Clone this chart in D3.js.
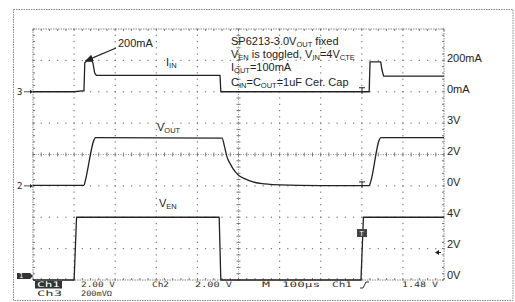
<!DOCTYPE html>
<html><head><meta charset="utf-8">
<script src="https://cdn.jsdelivr.net/npm/d3@7"></script>
<style>body{margin:0;background:#fff}svg{display:block}</style>
</head><body>
<svg id="c" width="515" height="302"></svg>
<script>
// ---- data ----
const timeDomain = [0, 1000];            // µs, 100 µs/div
const divsX = 10, divsY = 8;
// Ch1 : V_EN (V), 2 V/div, ground at div 0
const venT = [0, 100, 106, 453, 457, 798, 804, 1000];
const venV = [0, 0, 4, 4, 0, 0, 4, 4];
// Ch2 : V_OUT (V), 2 V/div, ground at div 3
const voutT = [0, 124, 127, 148, 152, 460, 466, 472, 480, 487, 499, 516, 535, 565, 600, 700, 818, 822, 842, 846, 1000];
const voutV = [0.03, 0.03, 0.3, 2.9, 3.08, 3.05, 2.5, 1.85, 1.4, 1.08, 0.7, 0.45, 0.25, 0.13, 0.06, 0.02, 0.02, 0.3, 2.9, 3.08, 3.08];
// Ch3 : I_IN (mA), 200 mA/div, ground at div 6
const iinT = [0, 100, 120, 124, 126, 130, 144, 146, 150, 154, 455, 457, 700, 818, 820, 846, 849, 853, 1000];
const iinV = [0, 0, 5, 5, 185, 195, 195, 180, 120, 105, 105, 0, 0, 0, 190, 190, 140, 100, 100];
// right-hand tick labels (by division from bottom)
const rightDivs = [7, 6, 5, 4, 3, 2, 1, 0];
const rightLabels = ["200mA", "0mA", "3V", "2V", "0V", "4V", "2V", "0V"];
// annotation note lines: [text, isSubscript]
const noteLines = [
  [["SP6213-3.0V",0],["OUT",1],[" fixed",0]],
  [["V",0],["EN",1],[" is toggled, ",0],["V",0],["IN",1],["=4V",0],["CTE",1]],
  [["I",0],["OUT",1],["=100mA",0]],
  [["C",0],["IN",1],["=C",0],["OUT",1],["=1uF Cer. Cap",0]]
];
const noteBase = [44.5, 58, 71, 86];
const traceLabels = [
  {parts:[["I",0],["IN",1]], x:166, y:66},
  {parts:[["V",0],["OUT",1]], x:157, y:131},
  {parts:[["V",0],["EN",1]], x:159, y:207}
];
const peakLabel = "200mA";
const scopeLine1 = [["2.00 V",81,34],["Ch2",152,17],["2.00 V",195,37],["M",262,8],["100µs",282,38],["Ch1",332,20],["1.48 V",402,36]];
const scopeLine2 = [["Ch3",37,25],["200mVΩ",81,31]];

// ---- layout ----
const svg = d3.select("#c");
const L = 33, R = 444, T = 29, B = 280;
const x = d3.scaleLinear().domain(timeDomain).range([L, R]);
const yDiv = d3.scaleLinear().domain([0, divsY]).range([B, T]);
const xDiv = d3.scaleLinear().domain([0, divsX]).range([L, R]);
const ink = "#222", gridC = "#777";

// outer frame
svg.append("rect").attr("x",13.5).attr("y",9.5).attr("width",499.5).attr("height",291)
  .attr("fill","none").attr("stroke","#888").attr("stroke-dasharray","1.5,1");

// grid dots
const g = svg.append("g");
const minorX = d3.range(0, divsX*5+1).map(k=>k/5);
const minorY = d3.range(0, divsY*5+1).map(k=>k/5);
for (let j = 1; j < divsY; j++) {
  if (j === 4) continue;
  g.selectAll(null).data(minorX).enter().append("rect")
    .attr("x", d=>xDiv(d)-0.6).attr("y", yDiv(j)-0.6).attr("width",1.2).attr("height",1.2).attr("fill",gridC);
}
for (let k = 1; k < divsX; k++) {
  if (k === 5) continue;
  g.selectAll(null).data(minorY).enter().append("rect")
    .attr("x", xDiv(k)-0.6).attr("y", d=>yDiv(d)-0.6).attr("width",1.2).attr("height",1.2).attr("fill",gridC);
}
// center lines with ticks
g.append("line").attr("x1",L).attr("x2",R).attr("y1",yDiv(4)).attr("y2",yDiv(4))
  .attr("stroke","#999").attr("stroke-dasharray","1,1.5");
g.append("line").attr("x1",xDiv(5)).attr("x2",xDiv(5)).attr("y1",T).attr("y2",B)
  .attr("stroke","#999").attr("stroke-dasharray","1,1.5");
g.selectAll(null).data(minorX).enter().append("line")
  .attr("x1",d=>xDiv(d)).attr("x2",d=>xDiv(d)).attr("y1",yDiv(4)-2).attr("y2",yDiv(4)+2).attr("stroke",gridC);
g.selectAll(null).data(minorY).enter().append("line")
  .attr("y1",d=>yDiv(d)).attr("y2",d=>yDiv(d)).attr("x1",xDiv(5)-2).attr("x2",xDiv(5)+2).attr("stroke",gridC);
// plot border
g.append("rect").attr("x",L).attr("y",T).attr("width",R-L).attr("height",B-T)
  .attr("fill","none").attr("stroke","#888").attr("stroke-dasharray","1.5,1");
g.selectAll(null).data(minorX).enter().append("line")
  .attr("x1",d=>xDiv(d)).attr("x2",d=>xDiv(d)).attr("y1",T).attr("y2",T+2).attr("stroke",gridC);
g.selectAll(null).data(minorX).enter().append("line")
  .attr("x1",d=>xDiv(d)).attr("x2",d=>xDiv(d)).attr("y1",B-2).attr("y2",B).attr("stroke",gridC);
g.selectAll(null).data(minorY).enter().append("line")
  .attr("y1",d=>yDiv(d)).attr("y2",d=>yDiv(d)).attr("x1",R-2).attr("x2",R).attr("stroke",gridC);
g.selectAll(null).data(minorY).enter().append("line")
  .attr("y1",d=>yDiv(d)).attr("y2",d=>yDiv(d)).attr("x1",L).attr("x2",L+2).attr("stroke",gridC);

// traces
function trace(ts, vs, offset, perDiv, curve) {
  const pts = ts.map((t,i)=>[t, vs[i]]);
  const line = d3.line().x(d=>x(d[0])).y(d=>yDiv(offset + d[1]/perDiv)).curve(curve||d3.curveLinear);
  svg.append("path").attr("d", line(pts)).attr("fill","none").attr("stroke",ink)
    .attr("stroke-width",1.3).attr("stroke-linejoin","round");
}
trace(venT, venV, 0, 2);
trace(voutT, voutV, 3, 2, d3.curveMonotoneX);
trace(iinT, iinV, 6, 200);

// right labels
svg.append("g").selectAll("text").data(rightDivs).enter().append("text")
  .attr("x", R+3).attr("y", d=>yDiv(d) - (1 + (7-d)*0.4))
  .attr("dominant-baseline","middle")
  .attr("font-family","Liberation Sans, Arial, sans-serif").attr("font-size",11).attr("fill",ink)
  .text((d,i)=>rightLabels[i]);

// rich text helper
function rich(parent, px, py, parts) {
  const t = parent.append("text").attr("x",px).attr("y",py)
    .attr("font-family","Liberation Sans, Arial, sans-serif").attr("font-size",11).attr("fill",ink);
  let prev = 0;
  parts.forEach(([s, sub])=>{
    const shift = sub ? 2 : 0;
    t.append("tspan").attr("dy", shift - prev).attr("font-size", sub ? 7.5 : 11).text(s);
    prev = shift;
  });
  return t;
}
noteLines.forEach((p,i)=>rich(svg, 231, noteBase[i], p));
traceLabels.forEach(d=>rich(svg, d.x, d.y, d.parts));
rich(svg, 118, 47, [[peakLabel,0]]);

// arrow to peak
svg.append("defs").append("marker").attr("id","ah").attr("viewBox","0 0 10 10")
  .attr("refX",9).attr("refY",5).attr("markerWidth",7).attr("markerHeight",7).attr("orient","auto")
  .append("path").attr("d","M0,1 L10,5 L0,9 Z").attr("fill",ink);
svg.append("line").attr("x1",116).attr("y1",48).attr("x2",x(128)).attr("y2",yDiv(7)+0.5)
  .attr("stroke",ink).attr("stroke-width",1.2).attr("marker-end","url(#ah)");

// channel ground markers
const mono = "DejaVu Sans Mono, Liberation Mono, monospace";
[[3, 6],[2, 3]].forEach(([ch, d])=>{
  const yy = yDiv(d);
  svg.append("text").attr("x",17).attr("y",yy+3).attr("font-family",mono).attr("font-size",9).attr("fill",ink).text(ch);
  svg.append("line").attr("x1",24).attr("x2",30).attr("y1",yy).attr("y2",yy).attr("stroke",ink).attr("stroke-width",0.8);
  svg.append("path").attr("d",`M${L},${yy} l-3,-2 l0,4 Z`).attr("fill",ink);
});
// ch1 marker (inverted)
svg.append("path").attr("d",`M17,${B-7} L30,${B-7} L33,${B-4} L30,${B-1} L17,${B-1} Z`).attr("fill","#333");
svg.append("text").attr("x",19).attr("y",B-1.8).attr("font-family",mono).attr("font-size",7).attr("fill","#fff").text("1");

// trigger T markers
[[362, yDiv(6)-4],[362, yDiv(3)-4]].forEach(([tx,ty])=>{
  svg.append("path").attr("d",`M${tx-3},${ty} L${tx+3},${ty} M${tx},${ty} L${tx},${ty+6}`)
    .attr("stroke",ink).attr("stroke-width",1).attr("fill","none");
});
svg.append("rect").attr("x",357).attr("y",229).attr("width",10).attr("height",8).attr("fill","#444");
svg.append("text").attr("x",359.5).attr("y",235.5).attr("font-family",mono).attr("font-size",7).attr("fill","#fff").text("T");
// trigger level marker
svg.append("path").attr("d","M435,252.5 L439,250 L439,255 Z").attr("fill",ink);
svg.append("line").attr("x1",438).attr("x2",441).attr("y1",252.5).attr("y2",252.5).attr("stroke",ink);

// scope readout
const fsz = 7.5;
svg.append("rect").attr("x",35).attr("y",281).attr("width",27).attr("height",7.5).attr("fill","#333");
svg.append("text").attr("x",37).attr("y",287.3).attr("font-family",mono).attr("font-size",fsz)
  .attr("fill","#fff").attr("textLength",23).attr("lengthAdjust","spacingAndGlyphs").text("Ch1");
scopeLine1.forEach(([s,px,w])=>{
  svg.append("text").attr("x",px).attr("y",287.3).attr("font-family",mono).attr("font-size",fsz)
    .attr("fill","#333").attr("textLength",w).attr("lengthAdjust","spacingAndGlyphs").text(s);
});
scopeLine2.forEach(([s,px,w])=>{
  svg.append("text").attr("x",px).attr("y",296.3).attr("font-family",mono).attr("font-size",fsz)
    .attr("fill","#333").attr("textLength",w).attr("lengthAdjust","spacingAndGlyphs").text(s);
});
// rising-edge trigger symbol
svg.append("path").attr("d","M360,288 L363,288 L366,282 L369,282").attr("fill","none").attr("stroke","#333").attr("stroke-width",1);
</script>
</body></html>
